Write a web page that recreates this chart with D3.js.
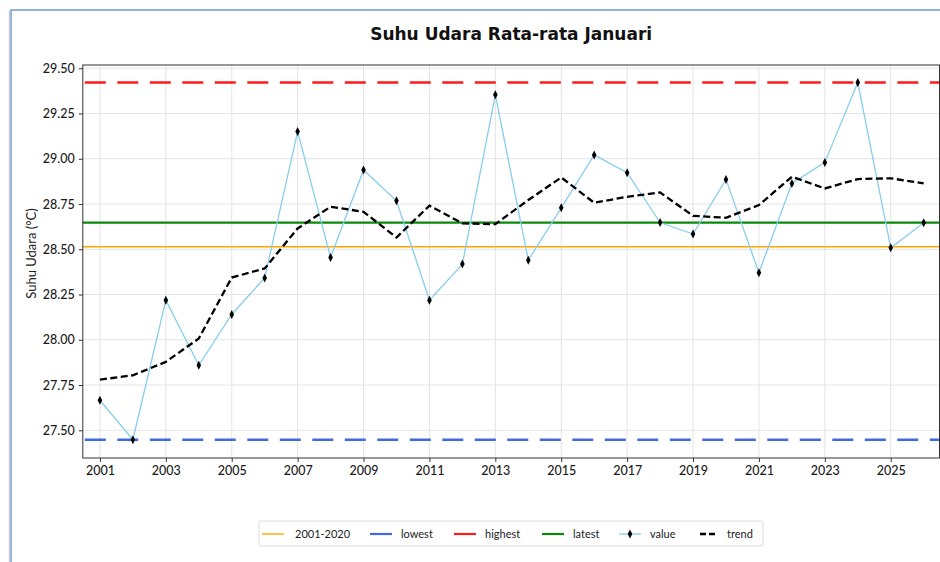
<!DOCTYPE html>
<html>
<head>
<meta charset="utf-8">
<script src="https://cdn.jsdelivr.net/npm/d3@7"></script>
<style>
  html, body { margin: 0; padding: 0; background: #fff; }
  svg { display: block; }
</style>
</head>
<body>
<div id="chart"></div>
<script>
// Suhu udara rata-rata Januari, 2001-2026
const years = d3.range(2001, 2027);
const values = [27.666, 27.448, 28.219, 27.859, 28.140, 28.342, 29.150, 28.455, 28.938, 28.768,
  28.219, 28.418, 29.353, 28.440, 28.729, 29.021, 28.923, 28.648, 28.584, 28.886,
  28.370, 28.864, 28.980, 29.421, 28.508, 28.647];
const trend = [27.780, 27.804, 27.878, 28.007, 28.344, 28.394, 28.615, 28.735, 28.707, 28.565,
  28.741, 28.643, 28.639, 28.772, 28.897, 28.757, 28.790, 28.814, 28.685, 28.674,
  28.744, 28.901, 28.836, 28.888, 28.892, 28.864];
const baseline = 28.514;   // rata-rata 2001-2020
const xTicks = d3.range(2001, 2027, 2);
const yTicks = [27.5, 27.75, 28.0, 28.25, 28.5, 28.75, 29.0, 29.25, 29.5];
const legendLabels = ["2001-2020", "lowest", "highest", "latest", "value", "trend"];

(function() {
  const W = 940, H = 562;
  const plot = { left: 82.8, right: 939.5, top: 65, bottom: 458 };

  const svg = d3.select("#chart").append("svg")
    .attr("width", W).attr("height", H);

  // window frame
  svg.append("rect").attr("x", 11).attr("y", 10).attr("width", W).attr("height", H)
    .attr("fill", "#fff").attr("stroke", "#7096d0").attr("stroke-width", 1.5);
  svg.append("line").attr("x1", 9.5).attr("x2", 9.5).attr("y1", 11).attr("y2", H)
    .attr("stroke", "#c8cbd2").attr("stroke-width", 1.5);

  const x = d3.scaleLinear().domain([2000.48, 2026.48]).range([plot.left, plot.right]);
  const y = d3.scaleLinear().domain([27.347, 29.518]).range([plot.bottom, plot.top]);

  const lowest = d3.min(values), highest = d3.max(values), latest = values[values.length - 1];

  // grid
  const grid = svg.append("g").attr("stroke", "#e4e4e4").attr("stroke-width", 1);
  grid.selectAll(".gx").data(xTicks).join("line")
    .attr("x1", d => x(d)).attr("x2", d => x(d)).attr("y1", plot.top).attr("y2", plot.bottom);
  grid.selectAll(".gy").data(yTicks).join("line")
    .attr("x1", plot.left).attr("x2", plot.right).attr("y1", d => y(d)).attr("y2", d => y(d));

  // reference lines
  const refs = [
    { v: baseline, color: "#ffa500", w: 1.4, dash: null },
    { v: lowest, color: "#4169e1", w: 2.6, dash: "21,11.5" },
    { v: highest, color: "#ff1a1a", w: 2.6, dash: "21,11.5" },
    { v: latest, color: "#0a8a0a", w: 2.2, dash: null }
  ];
  svg.append("g").selectAll("line").data(refs).join("line")
    .attr("x1", plot.left).attr("x2", plot.right)
    .attr("y1", d => y(d.v)).attr("y2", d => y(d.v))
    .attr("stroke", d => d.color).attr("stroke-width", d => d.w)
    .attr("stroke-dasharray", d => d.dash)
    .attr("stroke-dashoffset", -2);

  // value line
  const line = d3.line().x((d, i) => x(years[i])).y(d => y(d));
  svg.append("path").datum(values).attr("d", line)
    .attr("fill", "none").attr("stroke", "#87ceeb").attr("stroke-width", 1.3);

  const diamond = "M0,-4.5L2.3,0L0,4.5L-2.3,0Z";
  svg.append("g").selectAll("path").data(values).join("path")
    .attr("d", diamond)
    .attr("transform", (d, i) => `translate(${x(years[i])},${y(d)})`)
    .attr("fill", "#000");

  // trend
  svg.append("path").datum(trend).attr("d", line)
    .attr("fill", "none").attr("stroke", "#000").attr("stroke-width", 2.3)
    .attr("stroke-dasharray", "7,3.5");

  // frame
  svg.append("rect").attr("x", plot.left).attr("y", plot.top)
    .attr("width", plot.right - plot.left).attr("height", plot.bottom - plot.top)
    .attr("fill", "none").attr("stroke", "#333").attr("stroke-width", 1);

  // axes
  const xAxis = svg.append("g").attr("transform", `translate(0,${plot.bottom})`)
    .call(d3.axisBottom(x).tickValues(xTicks).tickFormat(d3.format("d")).tickSizeOuter(0).tickSize(4).tickPadding(4));
  const yAxis = svg.append("g").attr("transform", `translate(${plot.left},0)`)
    .call(d3.axisLeft(y).tickValues(yTicks).tickFormat(d3.format(".2f")).tickSizeOuter(0).tickSize(4).tickPadding(4));
  [xAxis, yAxis].forEach(a => {
    a.select(".domain").remove();
    a.selectAll("line").attr("stroke", "#333");
    a.selectAll("text").attr("fill", "#1a1a1a").style("font-family", "Lato, sans-serif")
      .style("font-size", "12.5px").style("font-weight", 500);
  });

  // title + y label
  svg.append("text").attr("x", (plot.left + plot.right) / 2).attr("y", 40)
    .attr("text-anchor", "middle")
    .style("font-family", "'DejaVu Sans', sans-serif").style("font-weight", "bold").style("font-size", "17px")
    .attr("fill", "#111")
    .text("Suhu Udara Rata-rata Januari");
  svg.append("text")
    .attr("transform", `translate(36,${(plot.top + plot.bottom) / 2 - 8}) rotate(-90)`)
    .attr("text-anchor", "middle")
    .style("font-family", "Lato, sans-serif").style("font-size", "13px").attr("fill", "#222")
    .text("Suhu Udara (°C)");

  // legend
  const lg = svg.append("g");
  lg.append("rect").attr("x", 259).attr("y", 521).attr("width", 504).attr("height", 25)
    .attr("rx", 2).attr("fill", "#fff").attr("stroke", "#dcdcdc");
  const items = [
    { color: "#ffa500", w: 1.4, dash: null, x0: 262, tx: 295 },
    { color: "#4169e1", w: 2.2, dash: null, x0: 370, tx: 401 },
    { color: "#ff1a1a", w: 2.2, dash: null, x0: 454, tx: 485 },
    { color: "#0a8a0a", w: 2.2, dash: null, x0: 542, tx: 573 },
    { color: "#87ceeb", w: 1.3, dash: null, x0: 619, tx: 650, marker: true },
    { color: "#000", w: 2.3, dash: "6,3", x0: 700, tx: 727, len: 18 }
  ];
  const ly = 534;
  items.forEach((it, i) => {
    const len = it.len || 22;
    lg.append("line").attr("x1", it.x0).attr("x2", it.x0 + len).attr("y1", ly).attr("y2", ly)
      .attr("stroke", it.color).attr("stroke-width", it.w).attr("stroke-dasharray", it.dash);
    if (it.marker) {
      lg.append("path").attr("d", diamond).attr("transform", `translate(${it.x0 + len / 2},${ly})`).attr("fill", "#000");
    }
    lg.append("text").attr("x", it.tx).attr("y", ly).attr("dy", "0.35em")
      .style("font-family", "Lato, sans-serif").style("font-size", "11px").attr("fill", "#222")
      .text(legendLabels[i]);
  });
})();
</script>
</body>
</html>
